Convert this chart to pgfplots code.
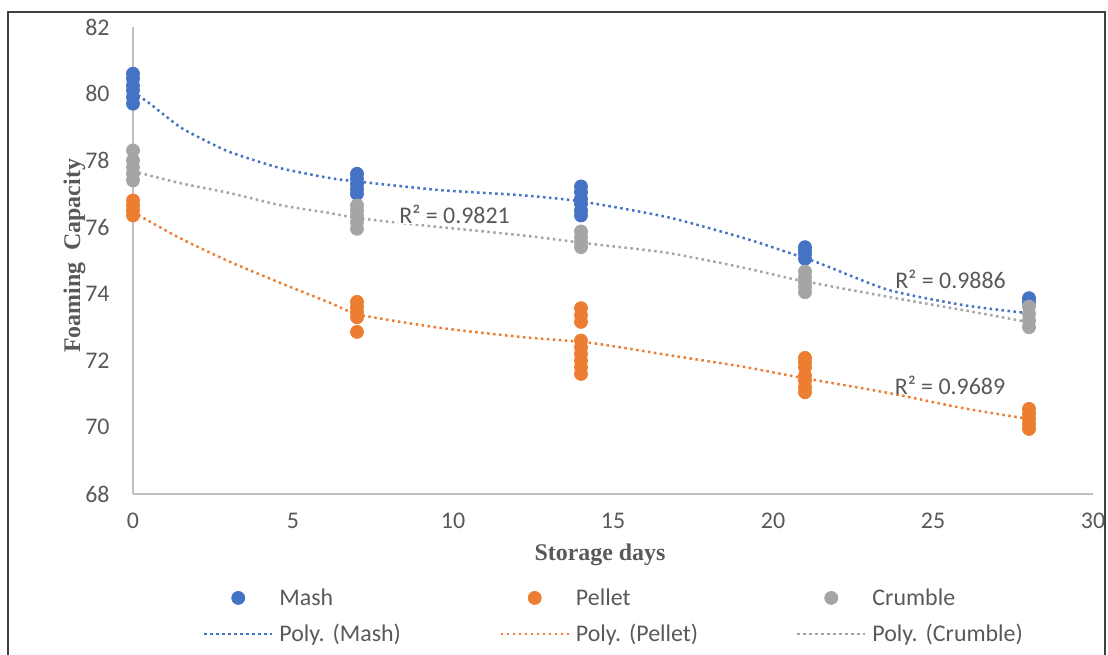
\documentclass[border=0pt]{standalone}
\usepackage{fontspec}
\setmainfont{Carlito}
\newfontfamily\titlefont{Liberation Serif}
\usepackage{pgfplots}
\pgfplotsset{compat=1.18}
\definecolor{cMash}{HTML}{4472C4}
\definecolor{cPellet}{HTML}{ED7D31}
\definecolor{cCrumble}{HTML}{A5A5A5}
\definecolor{txt}{HTML}{595959}
\definecolor{axl}{HTML}{BFBFBF}
\frenchspacing
\pgfplotsset{
  markleg/.style={legend image code/.code={\draw[mark repeat=2,mark phase=2,##1] plot coordinates {(0bp,0bp) (17bp,0bp) (34bp,0bp)};}},
  lineleg/.style={legend image code/.code={\draw[##1] (0bp,0bp) -- (34bp,0bp);}},
  pts/.style={only marks, mark=*, mark size=3.25bp, mark options={draw=#1, fill=#1}, markleg},
  tr/.style={draw=#1, line width=1.25bp, dash pattern=on 1.25bp off 1.75bp, smooth, tension=0.4, no marks, lineleg},
}
\begin{document}
\begin{tikzpicture}
\useasboundingbox (0,0) rectangle (554bp,327.5bp);
\clip (0,0) rectangle (554bp,327.5bp);
\draw[line width=0.8bp, black!75] (4bp,-5bp) -- (4bp,321.5bp) -- (552.5bp,321.5bp) -- (552.5bp,-5bp);
\begin{axis}[
  at={(66.5bp,80.5bp)}, anchor=south west,
  scale only axis, width=480bp, height=233.5bp,
  xmin=0, xmax=30, ymin=68, ymax=82,
  xtick={0,5,...,30}, ytick={68,70,...,82},
  axis x line*=bottom, axis y line*=left,
  axis line style={-, draw=axl, line width=0.75bp},
  major tick length=0pt, tick style={draw=none},
  ticklabel style={font=\fontsize{12}{14}\selectfont, text=txt, inner sep=0pt},
  yticklabel style={anchor=east, xshift=-11.5bp},
  xticklabel style={anchor=north, yshift=-9.5bp},
  /pgf/number format/assume math mode=true,
  xlabel={Storage days}, ylabel={Foaming\ \ Capacity},
  every axis x label/.style={at={(axis description cs:0.4865,0)}, anchor=base, yshift=-33bp, font=\titlefont\bfseries\fontsize{12}{14}\selectfont, text=txt},
  every axis y label/.style={at={(axis description cs:-0.0552,0.287)}, rotate=90, anchor=base west, font=\titlefont\bfseries\fontsize{12}{14}\selectfont, text=txt},
  legend columns=3,
  legend style={at={(axis description cs:0.0729,-0.184)}, anchor=north west, draw=none, fill=none,
    inner sep=0pt, outer sep=0pt, row sep=0pt, column sep=3bp,
    font=\fontsize{12}{14}\selectfont, text=txt,
    nodes={text width=107bp, align=left, inner xsep=0pt, inner ysep=0pt, text height=12.9bp, text depth=5.1bp}},
  clip=false,
]
% Scatter data
\addplot[pts=cMash] coordinates {
 (0,79.7) (0,79.9) (0,80.1) (0,80.25) (0,80.45) (0,80.6)
 (7,77.0) (7,77.15) (7,77.3) (7,77.45) (7,77.6)
 (14,76.35) (14,76.5) (14,76.7) (14,76.85) (14,77.05) (14,77.22)
 (21,75.05) (21,75.2) (21,75.3) (21,75.4)
 (28,73.75) (28,73.87)
};
\addlegendentry{Mash}
\addplot[pts=cPellet] coordinates {
 (0,76.35) (0,76.5) (0,76.65) (0,76.8)
 (7,72.86) (7,73.3) (7,73.45) (7,73.6) (7,73.76)
 (14,71.6) (14,71.8) (14,72.0) (14,72.2) (14,72.4) (14,72.6) (14,73.16) (14,73.36) (14,73.57)
 (21,71.05) (21,71.2) (21,71.4) (21,71.55) (21,71.8) (21,71.95) (21,72.08)
 (28,69.95) (28,70.1) (28,70.25) (28,70.4) (28,70.55)
};
\addlegendentry{Pellet}
\addplot[pts=cCrumble] coordinates {
 (0,77.4) (0,77.6) (0,77.8) (0,78.0) (0,78.3)
 (7,75.95) (7,76.15) (7,76.35) (7,76.5) (7,76.65)
 (14,75.4) (14,75.55) (14,75.7) (14,75.87)
 (21,74.05) (21,74.2) (21,74.35) (21,74.5) (21,74.67)
 (28,73.0) (28,73.2) (28,73.4) (28,73.62)
};
\addlegendentry{Crumble}
% Trend lines
\addplot[tr=cMash] coordinates {
 (0,80.05) (0.53,79.7) (1.47,79.0) (2.25,78.6) (3.03,78.25) (4.6,77.77) (6.16,77.47) (7,77.37)
 (9.6,77.11) (12.1,76.96) (14,76.77) (16.7,76.3) (19.1,75.67) (20.75,75.15) (21.5,74.9)
 (23.6,74.12) (25.9,73.67) (27.6,73.46) (28,73.43)
};
\addlegendentry{Poly. (Mash)}
\addplot[tr=cPellet] coordinates {
 (0,76.45) (1.47,75.67) (3.03,74.96) (4.6,74.33) (6.16,73.73) (7.1,73.37)
 (9.6,72.98) (12.1,72.71) (14.3,72.53) (16.7,72.17) (19.1,71.81) (20.75,71.51)
 (23.6,71.03) (25.9,70.58) (27.6,70.31) (28,70.25)
};
\addlegendentry{Poly. (Pellet)}
\addplot[tr=cCrumble] coordinates {
 (0,77.68) (1.47,77.32) (3.03,77.02) (4.6,76.66) (6.16,76.42) (7.1,76.26)
 (9.6,76.0) (12.1,75.76) (14.3,75.5) (16.7,75.23) (19.1,74.78) (20.75,74.42)
 (23.6,73.91) (25.9,73.52) (27.6,73.22) (28,73.15)
};
\addlegendentry{Poly. (Crumble)}
\node[font=\fontsize{12}{14}\selectfont, text=txt, fill=white, inner sep=0.5bp] at (axis cs:10.05,76.39) {R² = 0.9821};
\node[font=\fontsize{12}{14}\selectfont, text=txt, inner sep=0.5bp] at (axis cs:25.55,74.42) {R² = 0.9886};
\node[font=\fontsize{12}{14}\selectfont, text=txt, inner sep=0.5bp] at (axis cs:25.53,71.27) {R² = 0.9689};
\end{axis}
\end{tikzpicture}
\end{document}
